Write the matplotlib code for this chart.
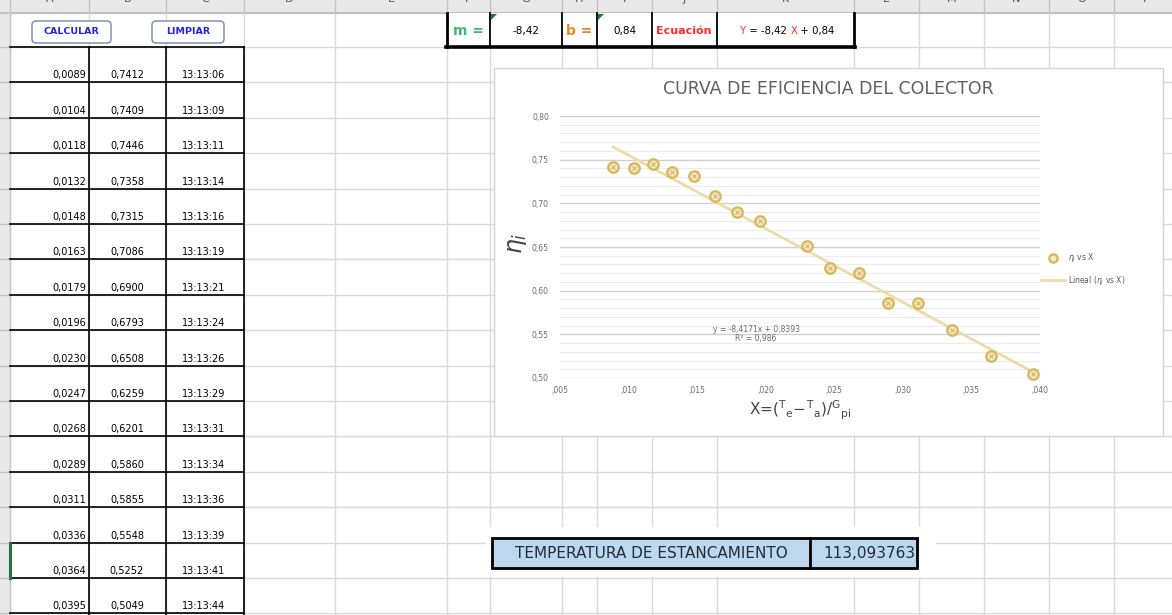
import numpy as np
import matplotlib.pyplot as plt
from matplotlib.patches import Rectangle, FancyBboxPatch, Polygon

# measured points: X = (Te - Ta) / Gpi, efficiency and time of reading
x_vals = [0.0089, 0.0104, 0.0118, 0.0132, 0.0148, 0.0163, 0.0179, 0.0196,
          0.0230, 0.0247, 0.0268, 0.0289, 0.0311, 0.0336, 0.0364, 0.0395]
eff_vals = [0.7412, 0.7409, 0.7446, 0.7358, 0.7315, 0.7086, 0.6900, 0.6793,
            0.6508, 0.6259, 0.6201, 0.5860, 0.5855, 0.5548, 0.5252, 0.5049]
times = ["13:13:06", "13:13:09", "13:13:11", "13:13:14", "13:13:16", "13:13:19",
         "13:13:21", "13:13:24", "13:13:26", "13:13:29", "13:13:31", "13:13:34",
         "13:13:36", "13:13:39", "13:13:41", "13:13:44"]

# linear fit as reported on the sheet
slope = -8.4171
intercept = 0.8393
r2 = 0.986
m_round = "-8,42"
b_round = "0,84"
t_stag = "113,093763"

x_ticks = [0.005, 0.010, 0.015, 0.020, 0.025, 0.030, 0.035, 0.040]
x_tick_labels = [",005", ",010", ",015", ",020", ",025", ",030", ",035", ",040"]
y_ticks = [0.50, 0.55, 0.60, 0.65, 0.70, 0.75, 0.80]
y_tick_labels = ["0,50", "0,55", "0,60", "0,65", "0,70", "0,75", "0,80"]

col_letters = list("ABCDEFGHIJKLMNOP")
col_edges = [10, 89, 166, 244, 335, 447, 490, 562, 597, 652, 717, 854, 919, 984, 1049, 1114, 1179]

W, H = 1172, 615
fig = plt.figure(figsize=(W / 100, H / 100), dpi=100)
bg = fig.add_axes([0, 0, 1, 1])
bg.set_xlim(0, W)
bg.set_ylim(H, 0)
bg.axis('off')

grid_c = '#dadada'
row_top, row_h = 47, 35.4
row_lines = [13] + [row_top + row_h * k for k in range(17)]

# sheet grid
for xe in col_edges:
    bg.plot([xe, xe], [13, H], color=grid_c, lw=1, zorder=1)
for ye in row_lines:
    bg.plot([0, W], [ye, ye], color=grid_c, lw=1, zorder=1)

# column header band (letters cut by the top edge)
bg.add_patch(Rectangle((0, 0), W, 13, facecolor='#e8e8e8', edgecolor='none', zorder=2))
bg.plot([0, W], [13, 13], color='#b8b8b8', lw=1.2, zorder=3)
for xe in col_edges:
    bg.plot([xe, xe], [0, 13], color='#c4c4c4', lw=1, zorder=3)
for i, letter in enumerate(col_letters):
    cx = (col_edges[i] + col_edges[i + 1]) / 2
    bg.text(cx, 4.5, letter, ha='center', va='bottom', fontsize=8, color='#555555', zorder=4)

# row header strip
bg.add_patch(Rectangle((0, 13), 10, H - 13, facecolor='#e8e8e8', edgecolor='none', zorder=2))
for ye in row_lines:
    bg.plot([0, 10], [ye, ye], color='#c4c4c4', lw=1, zorder=3)
bg.plot([10, 10], [13, H], color='#c4c4c4', lw=1, zorder=3)

# buttons
for (bx, bw, label) in [(32, 79, "CALCULAR"), (152, 72, "LIMPIAR")]:
    bg.add_patch(FancyBboxPatch((bx, 21), bw, 22, boxstyle="round,pad=0,rounding_size=4",
                                facecolor='white', edgecolor='#7d93ad', lw=1.1, zorder=5))
    bg.text(bx + bw / 2, 32, label, ha='center', va='center', fontsize=6.8,
            fontweight='bold', color='#2323e8', zorder=6)

# data table
tbl_x = [10, 89, 166, 244]
for k in range(16):
    y0 = row_top + row_h * k
    y1 = y0 + row_h
    yt = y1 - 7
    bg.text(86, yt, f"{x_vals[k]:.4f}".replace('.', ','), ha='right', va='center',
            fontsize=7, color='black', zorder=6)
    bg.text(127, yt, f"{eff_vals[k]:.4f}".replace('.', ','), ha='center', va='center',
            fontsize=7, color='black', zorder=6)
    bg.text(204, yt, times[k], ha='center', va='center', fontsize=7, color='black', zorder=6)
for k in range(17):
    ye = row_top + row_h * k
    bg.plot([10, 244], [ye, ye], color='black', lw=1.2, zorder=5)
for xe in tbl_x[1:]:
    bg.plot([xe, xe], [row_top, H], color='black', lw=1.2, zorder=5)
# active cell marker
bg.plot([10, 10], [row_top + row_h * 14, row_top + row_h * 15], color='#217346', lw=2.2, zorder=6)

# slope / intercept / equation row
bg.add_patch(Rectangle((447, 13), 407, 34, facecolor='white', edgecolor='none', zorder=4))
for xe in [490, 562, 597, 652, 717]:
    bg.plot([xe, xe], [13, 47], color='black', lw=1.3, zorder=5)
bg.plot([447, 447], [13, 47], color='black', lw=2, zorder=5)
bg.plot([854, 854], [13, 47], color='black', lw=2, zorder=5)
bg.plot([446, 855], [47, 47], color='black', lw=2.6, zorder=5)
for tx in [491, 598]:
    bg.add_patch(Polygon([[tx, 14], [tx + 6, 14], [tx, 20]], closed=True,
                         facecolor='#1e7a32', edgecolor='none', zorder=6))
yr = 31
bg.text(468, yr, "m =", ha='center', va='center', fontsize=10, fontweight='bold',
        color='#3dbb6a', zorder=6)
bg.text(526, yr, m_round, ha='center', va='center', fontsize=7.5, color='black', zorder=6)
bg.text(579, yr, "b =", ha='center', va='center', fontsize=10, fontweight='bold',
        color='#e8862c', zorder=6)
bg.text(625, yr, b_round, ha='center', va='center', fontsize=7.5, color='black', zorder=6)
bg.text(684, yr, "Ecuación", ha='center', va='center', fontsize=8, fontweight='bold',
        color='#ff2b2b', zorder=6)
parts = [("Y", '#ff2b2b'), (" = " + m_round + " ", 'black'), ("X", '#ff2b2b'),
         (" + " + b_round, 'black')]
prev = bg.text(740, yr, parts[0][0], ha='left', va='center', fontsize=7.3,
               color=parts[0][1], zorder=6)
for txt, c in parts[1:]:
    prev = bg.annotate(txt, xy=(1, 0), xycoords=prev, va='bottom', ha='left',
                       fontsize=7.3, color=c, zorder=6)

# stagnation temperature cell
bg.add_patch(Rectangle((486, 527), 450, 50, facecolor='white', edgecolor='none', zorder=4))
bg.add_patch(Rectangle((492, 538), 425, 30, facecolor='#bdd7ee', edgecolor='black',
                       lw=2, zorder=5))
bg.plot([810, 810], [538, 568], color='black', lw=2, zorder=6)
bg.text(651, 553, "TEMPERATURA DE ESTANCAMIENTO", ha='center', va='center',
        fontsize=11, family='Liberation Sans Narrow', color='#1f2d3d', zorder=6)
bg.text(915, 553, t_stag, ha='right', va='center', fontsize=11,
        family='Liberation Sans Narrow', color='#1f2d3d', zorder=6)

# chart frame
bg.add_patch(Rectangle((494, 68), 669, 368, facecolor='white', edgecolor='#d4d4d4',
                       lw=1, zorder=7))
bg.text(828, 89, "CURVA DE EFICIENCIA DEL COLECTOR", ha='center', va='center',
        fontsize=12.5, family='Liberation Sans Narrow', color='#5f5f5f', zorder=8)

# plot area
px0, px1, py0, py1 = 560, 1040, 116, 378
ax = fig.add_axes([px0 / W, 1 - py1 / H, (px1 - px0) / W, (py1 - py0) / H])
ax.set_zorder(10)
ax.patch.set_alpha(0)
ax.set_xlim(0.005, 0.040)
ax.set_ylim(0.50, 0.80)
for s in ax.spines.values():
    s.set_visible(False)
ax.set_xticks(x_ticks, labels=x_tick_labels)
ax.set_yticks(y_ticks, labels=y_tick_labels)
ax.set_yticks(np.arange(0.50, 0.80, 0.01), minor=True)
ax.tick_params(axis='both', which='both', length=0, labelsize=5.5, labelcolor='#6a6a6a')
ax.tick_params(axis='x', pad=6)
ax.tick_params(axis='y', pad=8)
ax.grid(axis='y', which='major', color='#d0d0d0', lw=1)
ax.grid(axis='y', which='minor', color='#ececec', lw=0.8)
ax.grid(axis='x', visible=False)
ax.set_axisbelow(True)

x_arr = np.array(x_vals)
xfit = np.array([x_arr.min(), x_arr.max()])
line, = ax.plot(xfit, slope * xfit + intercept, color='#eddcaa', lw=2, zorder=3,
                clip_on=False)
pts, = ax.plot(x_arr, eff_vals, 'o', ms=7.5, mfc='#f3e8c6', mec='#d8b95e', mew=1.7,
               zorder=4, clip_on=False)
ax.plot(x_arr, eff_vals, 'x', ms=3, color='#caa84e', mew=0.6, zorder=5, clip_on=False)

fit_txt = f"y = {slope:.4f}x + {intercept:.4f}".replace('.', ',')
ax.text(0.0193, 0.556, fit_txt, ha='center', va='center', fontsize=5.5, color='#6a6a6a')
ax.text(0.0193, 0.5455, "R² = " + f"{r2:.3f}".replace('.', ','), ha='center',
        va='center', fontsize=5.5, color='#6a6a6a')

ax.legend([pts, line], [r"$\eta_i$ vs X", r"Lineal ($\eta_i$ vs X)"], loc='center left',
          bbox_to_anchor=(1034 / W, 1 - 269 / H), bbox_transform=fig.transFigure,
          frameon=False, fontsize=5.5, labelcolor='#595959', handlelength=3.2,
          handletextpad=0.3, labelspacing=1.2, markerscale=0.8)

fig.text(800 / W, 1 - 410 / H,
         r"X=$(^{\mathrm{T}}{}_{\mathrm{e}}\!-\!{}^{\mathrm{T}}{}_{\mathrm{a}})/{}^{\mathrm{G}}{}_{\mathrm{pi}}$",
         ha='center', va='center', fontsize=11, color='#444444', zorder=12)
fig.text(517 / W, 1 - 243 / H, r"$\eta_{i}$", rotation=90, ha='center', va='center',
         fontsize=17, color='#444444', zorder=12)

fig.savefig("out.png", dpi=100)
